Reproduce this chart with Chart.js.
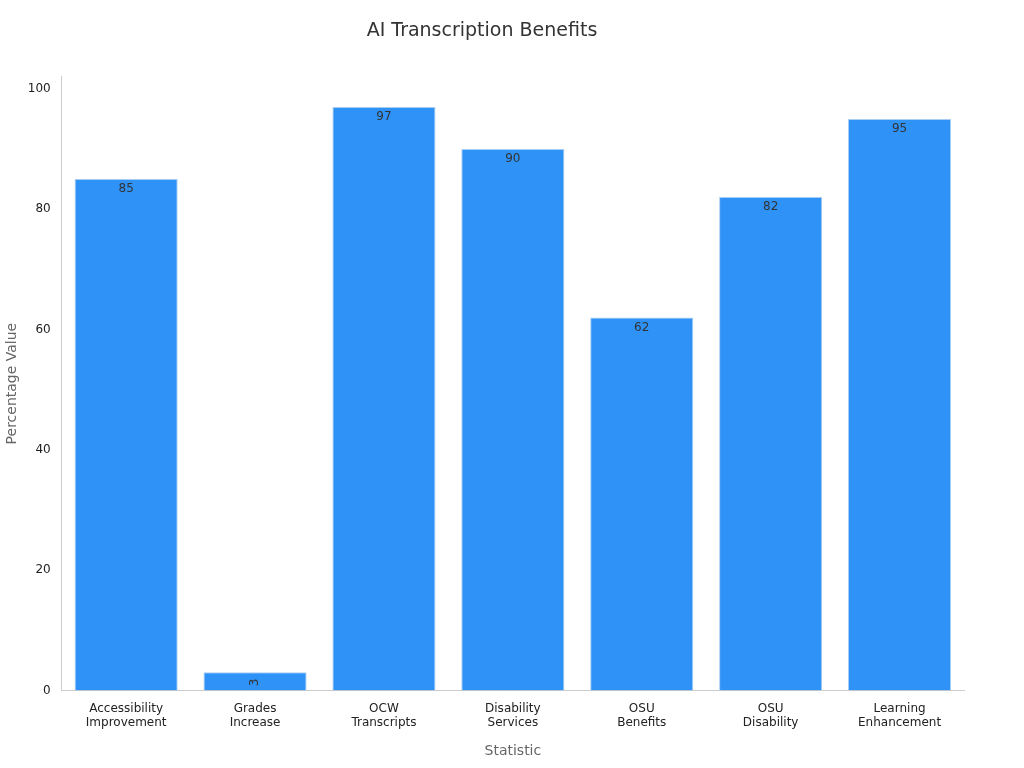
<!DOCTYPE html>
<html><head><meta charset="utf-8">
<script src="https://cdn.jsdelivr.net/npm/chart.js@4"></script>
<style>html,body{margin:0;background:#fff}#w{width:1024px;height:768px}</style>
</head><body><div id="w"><canvas id="c"></canvas></div>
<script>
const categories = [["Accessibility","Improvement"],["Grades","Increase"],["OCW","Transcripts"],["Disability","Services"],["OSU","Benefits"],["OSU","Disability"],["Learning","Enhancement"]];
const values = [85, 3, 97, 90, 62, 82, 95];
const yTicks = [0, 20, 40, 60, 80, 100];

const labelPlugin = {
  id: 'lbl',
  afterDatasetsDraw(chart) {
    const ctx = chart.ctx;
    const meta = chart.getDatasetMeta(0);
    ctx.save();
    ctx.fillStyle = '#333';
    ctx.font = '12px "DejaVu Sans"';
    ctx.textAlign = 'center';
    ctx.textBaseline = 'middle';
    meta.data.forEach((bar, i) => {
      const h = bar.base - bar.y;
      if (h < 20) {
        ctx.save();
        ctx.translate(bar.x, bar.y + h / 2 + 1);
        ctx.rotate(-Math.PI / 2);
        ctx.fillText(String(values[i]), 0, 0);
        ctx.restore();
      } else {
        ctx.fillText(String(values[i]), bar.x, bar.y + 10);
      }
    });
    ctx.restore();
  }
};

new Chart(document.getElementById('c'), {
  type: 'bar',
  data: { labels: categories, datasets: [{ data: values, backgroundColor: '#2f92f7', borderColor: '#a9cdf2', borderWidth: 1, barPercentage: 0.8, categoryPercentage: 1.0 }] },
  options: {
    responsive: true, maintainAspectRatio: false, animation: false,
    layout: { padding: { left: 0, right: 60, top: 10, bottom: 4 } },
    plugins: {
      legend: { display: false }, tooltip: { enabled: false },
      title: { display: true, text: 'AI Transcription Benefits', color: '#333', font: { family: 'DejaVu Sans', size: 19, weight: 'normal' }, padding: { top: 10, bottom: 34 } }
    },
    scales: {
      x: {
        grid: { display: false }, border: { color: '#ccc' },
        ticks: { color: '#222', font: { family: 'DejaVu Sans', size: 12 }, maxRotation: 0 },
        title: { display: true, text: 'Statistic', color: '#666', font: { family: 'DejaVu Sans', size: 14 }, padding: { top: 10 } }
      },
      y: {
        min: 0, max: 102,
        afterBuildTicks(s) { s.ticks = yTicks.map(v => ({ value: v })); },
        grid: { display: false, drawTicks: true }, border: { color: '#ccc' },
        ticks: { color: '#222', font: { family: 'DejaVu Sans', size: 12 } },
        title: { display: true, text: 'Percentage Value', color: '#666', font: { family: 'DejaVu Sans', size: 14 } }
      }
    }
  },
  plugins: [labelPlugin]
});
</script></body></html>
